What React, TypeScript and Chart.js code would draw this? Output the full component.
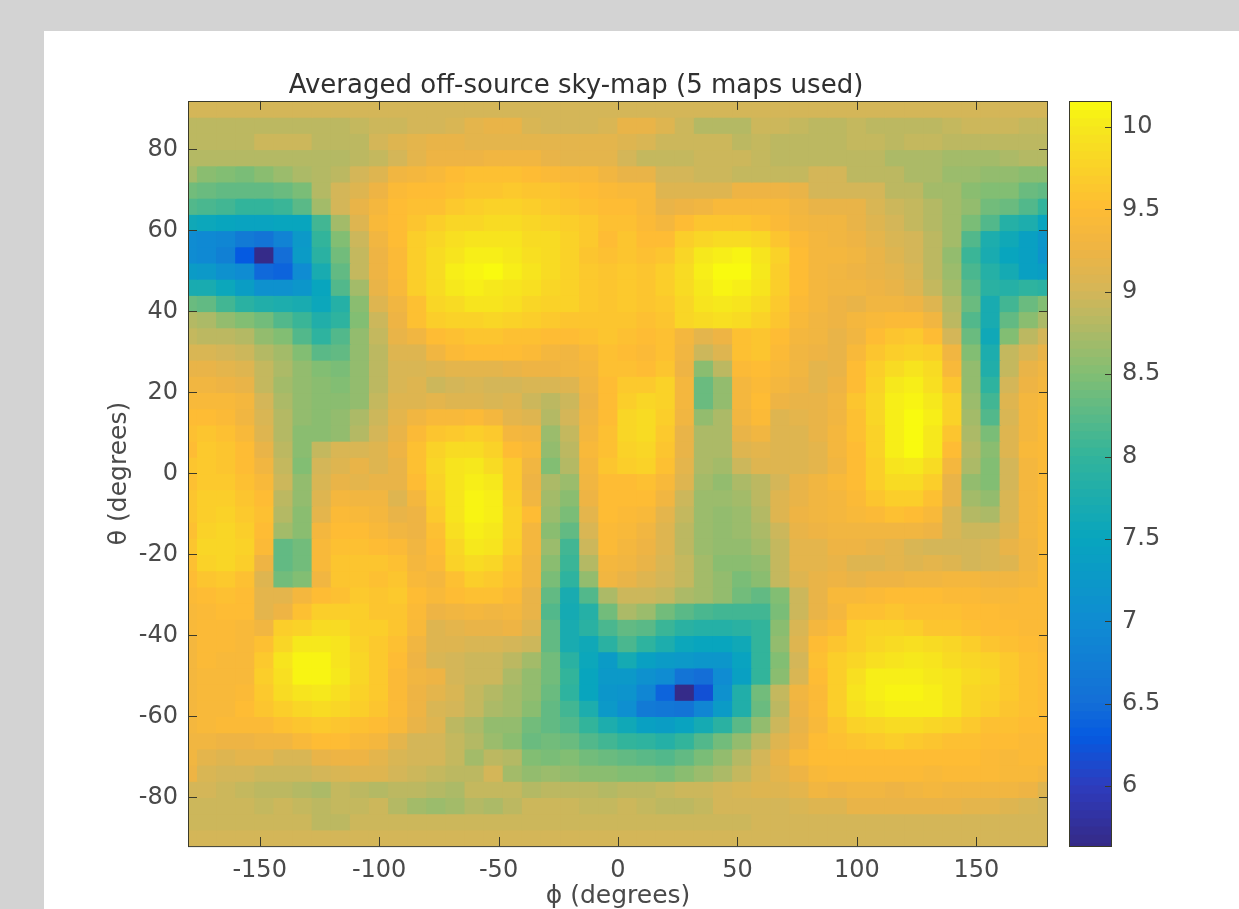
import React, { useEffect, useRef } from "react";
import { Chart, registerables } from "chart.js";

Chart.register(...registerables);

const chartTitle = "Averaged off-source sky-map (5 maps used)";
const xTitle = "ϕ (degrees)";
const yTitle = "θ (degrees)";
const xTicks = [-150, -100, -50, 0, 50, 100, 150];
const yTicks = [80, 60, 40, 20, 0, -20, -40, -60, -80];
const barTicks = [6, 6.5, 7, 7.5, 8, 8.5, 9, 9.5, 10];

const phiCenters = [-180,-172,-164,-156,-148,-140,-132,-124,-116,-108,-100,-92,-84,-76,-68,-60,-52,-44,-36,-28,-20,-12,-4,4,12,20,28,36,44,52,60,68,76,84,92,100,108,116,124,132,140,148,156,164,172,180];
const thetaCenters = [90,86,82,78,74,70,66,62,58,54,50,46,42,38,34,30,26,22,18,14,10,6,2,-2,-6,-10,-14,-18,-22,-26,-30,-34,-38,-42,-46,-50,-54,-58,-62,-66,-70,-74,-78,-82,-86,-90];

const skyRows = [
[9,9,9,9,9,9,9,9,9,9,9,9,9,9,9,9,9,9,9,9,9,9,9,9,9,9,9,9,9,9,9,9,9,9,9,9,9,9,9,9,9,9,9,9,9,9],
[8.85,8.85,8.85,8.85,8.85,8.85,8.85,8.85,8.85,8.9,8.95,8.95,9,9,9.05,9.15,9.2,9.2,9.05,9,9,9,9.05,9.2,9.2,9.1,8.95,8.8,8.8,8.8,8.95,8.95,8.9,8.85,8.85,8.9,8.85,8.85,8.85,8.85,8.9,8.95,8.95,8.95,8.9,8.9],
[8.85,8.85,8.85,8.85,8.95,8.95,8.95,8.85,8.85,8.85,9,9.1,9.15,9.2,9.2,9.15,9.15,9.15,9.15,9.15,9.15,9.15,9.15,9.1,9.05,8.95,8.95,8.95,8.95,8.85,8.9,8.85,8.85,8.85,8.85,8.9,8.9,8.85,8.9,8.9,8.85,8.85,8.85,8.85,8.85,8.85],
[8.8,8.8,8.8,8.8,8.8,8.8,8.8,8.8,8.8,8.85,8.9,9,9.15,9.25,9.25,9.25,9.3,9.3,9.3,9.2,9.15,9.15,9.15,9,8.9,8.9,8.9,8.95,8.95,8.95,8.9,8.85,8.85,8.85,8.85,8.85,8.85,8.75,8.75,8.75,8.7,8.7,8.7,8.75,8.8,8.8],
[8.7,8.55,8.5,8.45,8.55,8.65,8.75,8.8,8.85,9,9.1,9.3,9.35,9.4,9.5,9.55,9.55,9.55,9.5,9.45,9.4,9.4,9.3,9.2,9.2,9,9,8.95,8.95,8.9,8.9,8.9,8.9,9,9,8.85,8.85,8.85,8.75,8.75,8.65,8.65,8.6,8.6,8.55,8.55],
[8.4,8.35,8.3,8.3,8.3,8.35,8.45,8.8,9,9.1,9.25,9.45,9.5,9.5,9.55,9.6,9.6,9.65,9.6,9.6,9.55,9.5,9.45,9.4,9.4,9.1,9.1,9.1,9.1,9.25,9.25,9.25,9.2,9,9,9,9,8.85,8.85,8.7,8.7,8.55,8.5,8.5,8.35,8.3],
[8.2,8.15,8.1,8,8,8.05,8.25,8.7,9,9.2,9.35,9.5,9.55,9.55,9.65,9.7,9.75,9.75,9.7,9.65,9.6,9.55,9.5,9.5,9.4,9.2,9.25,9.3,9.4,9.4,9.4,9.4,9.3,9.2,9.2,9.2,9.05,8.95,8.9,8.8,8.7,8.6,8.4,8.35,8.2,8],
[7.6,7.55,7.5,7.45,7.45,7.5,7.5,8.1,8.7,9.1,9.4,9.5,9.6,9.7,9.8,9.8,9.85,9.85,9.8,9.75,9.7,9.65,9.55,9.55,9.45,9.35,9.5,9.6,9.6,9.6,9.55,9.45,9.35,9.3,9.3,9.2,9.1,9,8.9,8.8,8.7,8.45,8.2,7.85,7.75,7.5],
[7,6.95,6.9,6.7,6.6,6.85,7.25,8,8.5,8.95,9.3,9.5,9.7,9.8,9.9,9.95,9.95,9.95,9.85,9.85,9.75,9.65,9.5,9.6,9.5,9.5,9.7,9.8,9.85,9.85,9.8,9.6,9.45,9.35,9.3,9.25,9.15,9.05,9,8.85,8.7,8.2,7.75,7.6,7.4,7.2],
[7,6.95,6.8,6.3,5.65,6.5,7.3,7.9,8.4,8.9,9.25,9.45,9.7,9.85,9.95,10.05,10.05,10,9.9,9.85,9.75,9.6,9.55,9.6,9.55,9.6,9.8,10,10.05,10.1,9.95,9.75,9.5,9.35,9.35,9.3,9.2,9.1,9,8.85,8.6,8.05,7.7,7.5,7.4,7.15],
[7.3,7.25,7.1,7,6.45,6.4,7,7.7,8.3,8.9,9.25,9.45,9.7,9.85,10.05,10.1,10.15,10.05,9.95,9.85,9.75,9.65,9.6,9.65,9.6,9.7,9.85,10.05,10.15,10.15,10,9.7,9.5,9.35,9.3,9.25,9.2,9.15,9.05,8.85,8.65,8.15,7.85,7.65,7.4,7.35],
[7.7,7.7,7.55,7.35,7.1,7.1,7.2,7.5,8.2,8.7,9.2,9.4,9.7,9.85,10,10.05,10,9.95,9.9,9.8,9.75,9.65,9.6,9.65,9.6,9.7,9.85,10,10.1,10.05,9.95,9.7,9.5,9.35,9.3,9.3,9.25,9.2,9.1,8.9,8.7,8.25,7.9,7.85,7.95,7.9],
[8.35,8.3,8.1,7.9,7.8,7.75,7.7,7.55,7.85,8.55,9.1,9.3,9.55,9.8,9.85,9.95,9.95,9.9,9.8,9.75,9.75,9.65,9.6,9.65,9.6,9.65,9.8,9.95,10,9.95,9.85,9.65,9.45,9.35,9.25,9.2,9.3,9.3,9.25,9.1,8.8,8.35,7.7,8.1,8.35,8.5],
[8.8,8.75,8.6,8.5,8.4,8.2,8.05,7.8,7.95,8.5,8.95,9.25,9.55,9.7,9.75,9.75,9.8,9.75,9.7,9.65,9.6,9.6,9.6,9.6,9.55,9.6,9.8,9.85,9.9,9.85,9.75,9.6,9.4,9.3,9.25,9.35,9.4,9.45,9.45,9.3,8.85,8.2,7.7,8.3,8.55,8.75],
[8.9,8.85,8.85,8.8,8.6,8.5,8.2,7.95,8.2,8.6,8.9,9.2,9.3,9.5,9.55,9.6,9.6,9.55,9.55,9.5,9.5,9.55,9.6,9.55,9.5,9.55,9.35,9.15,9.25,9.55,9.6,9.5,9.35,9.3,9.2,9.3,9.5,9.6,9.65,9.5,9,8.35,7.6,8.5,8.85,9],
[9.05,9.05,9,8.95,8.8,8.7,8.5,8.25,8.3,8.6,8.85,9.1,9.1,9.3,9.45,9.5,9.5,9.5,9.45,9.35,9.3,9.4,9.55,9.5,9.45,9.55,9.3,8.95,9.1,9.55,9.6,9.45,9.3,9.25,9.2,9.4,9.6,9.7,9.75,9.7,9.3,8.5,7.75,8.9,9.05,9.2],
[9.2,9.2,9.15,9.1,8.9,8.75,8.6,8.5,8.45,8.6,8.85,9.05,9.05,9.1,9.15,9.15,9.15,9.2,9.25,9.25,9.3,9.35,9.55,9.55,9.5,9.6,9.25,8.55,8.85,9.45,9.5,9.4,9.3,9.15,9.2,9.5,9.7,9.85,9.95,9.85,9.4,8.6,7.8,8.9,9.2,9.3],
[9.3,9.3,9.25,9.2,8.9,8.7,8.6,8.55,8.5,8.6,8.85,9.05,9.1,8.95,9,9.05,9,9,9.05,9.05,9.1,9.3,9.5,9.65,9.65,9.75,9.35,8.35,8.6,9.35,9.45,9.35,9.25,9.15,9.25,9.5,9.75,10,10.05,9.9,9.6,8.6,7.95,9,9.25,9.35],
[9.4,9.4,9.4,9.35,9,8.75,8.6,8.55,8.55,8.6,8.9,9.1,9.1,9.15,9.1,9.1,9.05,9.1,8.95,8.85,8.95,9.25,9.5,9.7,9.8,9.75,9.35,8.35,8.6,9.35,9.5,9.25,9.2,9.2,9.3,9.6,9.8,10.05,10.1,10,9.75,8.65,8.1,9.1,9.35,9.4],
[9.5,9.5,9.45,9.3,9.05,8.8,8.6,8.55,8.6,8.75,8.95,9.15,9.3,9.4,9.4,9.45,9.35,9.15,9.1,8.8,9,9.3,9.5,9.8,9.85,9.7,9.3,8.6,8.75,9.3,9.45,9.1,9.15,9.2,9.3,9.55,9.8,10.05,10.15,10.05,9.75,8.7,8.2,9.05,9.35,9.45],
[9.55,9.6,9.55,9.4,9.1,8.8,8.55,8.55,8.6,8.8,9,9.2,9.45,9.6,9.65,9.7,9.65,9.35,9.3,8.65,8.9,9.35,9.55,9.8,9.85,9.65,9.2,8.75,8.75,9.2,9.3,9.1,9.1,9.2,9.35,9.55,9.75,10.05,10.15,10,9.6,8.75,8.45,9.1,9.35,9.45],
[9.5,9.65,9.6,9.5,9.2,8.85,8.55,8.9,9.05,9.05,9.1,9.25,9.55,9.75,9.85,9.85,9.75,9.5,9.4,8.6,8.85,9.4,9.55,9.75,9.8,9.6,9.2,8.75,8.75,9.1,9.15,9.1,9.1,9.15,9.35,9.5,9.75,10.05,10.15,10,9.5,8.8,8.55,9.1,9.4,9.45],
[9.6,9.65,9.6,9.5,9.3,8.9,8.5,9,9.1,9.2,9.1,9.2,9.55,9.8,9.95,10,9.85,9.65,9.3,8.5,8.8,9.35,9.6,9.7,9.75,9.55,9.15,8.75,8.7,8.95,9.1,9.1,9.1,9.15,9.3,9.5,9.7,9.95,10,9.85,9.35,8.75,8.5,9,9.35,9.45],
[9.55,9.65,9.65,9.55,9.4,8.95,8.6,9.05,9.2,9.15,9.2,9.2,9.5,9.75,9.95,10.05,10,9.65,9.25,8.75,8.65,9.3,9.5,9.5,9.55,9.4,9.1,8.7,8.6,8.75,8.85,9,9.2,9.3,9.4,9.5,9.7,9.85,9.85,9.7,9.2,8.6,8.5,9,9.35,9.45],
[9.6,9.7,9.7,9.6,9.5,8.85,8.6,9.1,9.35,9.3,9.3,9.1,9.35,9.7,9.95,10.1,10.05,9.7,9.3,8.7,8.55,9.25,9.5,9.5,9.5,9.3,8.95,8.65,8.65,8.7,8.85,9.1,9.2,9.3,9.35,9.45,9.6,9.7,9.7,9.55,9.2,8.7,8.6,9.05,9.35,9.45],
[9.6,9.7,9.75,9.65,9.55,8.8,8.55,9.15,9.45,9.4,9.35,9.2,9.25,9.65,9.95,10.1,10.05,9.75,9.5,8.65,8.45,9.15,9.5,9.45,9.4,9.15,8.9,8.65,8.6,8.65,8.8,9.1,9.25,9.3,9.35,9.4,9.45,9.55,9.5,9.4,9.05,8.8,8.75,9.05,9.35,9.45],
[9.55,9.75,9.8,9.7,9.5,8.7,8.55,9.35,9.5,9.5,9.4,9.3,9.25,9.55,9.9,10.05,10,9.75,9.35,8.55,8.3,9.05,9.45,9.4,9.3,9.1,8.85,8.65,8.6,8.65,8.75,8.95,9.2,9.25,9.3,9.3,9.3,9.3,9.3,9.25,9.05,8.95,8.95,9.1,9.35,9.45],
[9.6,9.8,9.8,9.75,9.45,8.3,8.4,9.4,9.55,9.55,9.5,9.45,9.3,9.5,9.8,10,9.95,9.7,9.35,8.65,8.1,8.95,9.45,9.35,9.25,9.1,8.85,8.65,8.6,8.6,8.7,8.9,9.15,9.15,9.25,9.25,9.2,9.15,9.05,9,9,9,9.05,9.2,9.3,9.45],
[9.55,9.75,9.8,9.7,9.25,8.3,8.4,9.4,9.6,9.6,9.6,9.55,9.35,9.45,9.75,9.85,9.8,9.6,9.3,8.55,8.05,8.8,9.35,9.3,9.2,9.05,8.9,8.7,8.55,8.55,8.6,8.9,9.15,9.15,9.2,9.1,9.1,9.15,9.1,9.15,9.1,9,9.05,9.1,9.3,9.45],
[9.5,9.6,9.65,9.55,9.1,8.4,8.5,9.3,9.6,9.6,9.55,9.6,9.4,9.35,9.55,9.7,9.65,9.55,9.3,8.45,7.95,8.6,9.3,9.2,9.1,9,8.9,8.7,8.6,8.45,8.55,8.9,9.1,9.2,9.25,9.2,9.25,9.25,9.3,9.3,9.35,9.35,9.3,9.3,9.35,9.45],
[9.45,9.5,9.55,9.5,9.15,9.15,9.35,9.5,9.55,9.65,9.6,9.65,9.5,9.4,9.5,9.55,9.55,9.45,9.2,8.3,7.7,8.2,8.75,8.95,8.95,8.9,8.75,8.7,8.6,8.4,8.3,8.5,8.95,9.2,9.4,9.4,9.45,9.5,9.5,9.5,9.45,9.45,9.4,9.4,9.45,9.45],
[9.4,9.45,9.5,9.5,9.15,9.25,9.55,9.7,9.7,9.7,9.6,9.6,9.45,9.25,9.3,9.35,9.3,9.35,9.2,8.2,7.65,7.85,8.4,8.75,8.65,8.4,8.25,8.15,8.1,8.1,8.1,8.45,8.95,9.2,9.35,9.55,9.55,9.6,9.55,9.55,9.55,9.5,9.5,9.45,9.45,9.45],
[9.4,9.45,9.45,9.4,9.3,9.7,9.75,9.85,9.85,9.7,9.7,9.6,9.4,9.1,9.15,9.2,9.2,9.25,9.1,8.3,7.7,7.9,8.15,8.3,8.25,8.05,7.9,7.85,7.85,7.9,8,8.55,9.05,9.35,9.45,9.7,9.75,9.75,9.7,9.6,9.6,9.55,9.5,9.5,9.45,9.45],
[9.35,9.45,9.45,9.4,9.55,9.8,10,10,9.95,9.75,9.65,9.55,9.3,9.1,9.1,9.05,9.05,9,8.95,8.3,7.7,7.6,7.9,8.15,7.95,7.75,7.55,7.5,7.5,7.6,8,8.6,9.1,9.5,9.6,9.7,9.8,9.85,9.9,9.85,9.8,9.7,9.6,9.55,9.5,9.45],
[9.35,9.45,9.4,9.4,9.65,9.95,10.1,10.1,9.95,9.8,9.65,9.5,9.25,9.05,9,8.95,8.95,8.85,8.7,8.4,7.9,7.55,7.3,7.65,7.4,7.3,7.25,7.2,7.2,7.45,8,8.5,9,9.55,9.7,9.8,9.9,9.95,10,9.95,9.85,9.8,9.75,9.65,9.55,9.5],
[9.35,9.4,9.4,9.4,9.7,9.9,10.1,10.1,10,9.8,9.65,9.45,9.3,9.25,9,8.95,8.95,8.75,8.6,8.4,8,7.5,7.25,7.25,7.1,7,6.6,6.5,7,7.4,8,8.55,9.05,9.5,9.7,9.9,10.05,10.05,10.05,10,9.95,9.85,9.8,9.65,9.55,9.5],
[9.35,9.4,9.4,9.45,9.65,9.85,9.95,10,9.9,9.75,9.65,9.45,9.25,9.15,9.05,8.9,8.8,8.7,8.6,8.35,7.95,7.5,7.2,7.15,6.9,6.4,5.65,6.2,7.1,7.8,8.4,8.9,9.3,9.45,9.7,9.95,10.05,10.1,10.1,10.05,9.95,9.8,9.75,9.65,9.55,9.5],
[9.35,9.4,9.4,9.5,9.6,9.7,9.8,9.85,9.8,9.7,9.6,9.45,9.25,9.05,9,8.9,8.75,8.7,8.55,8.3,8.1,7.75,7.25,7.05,6.7,6.65,6.6,6.9,7.3,7.8,8.35,8.85,9.25,9.45,9.7,9.9,10,10.05,10.05,10.05,9.95,9.8,9.7,9.6,9.55,9.5],
[9.35,9.4,9.45,9.45,9.45,9.55,9.6,9.65,9.6,9.55,9.5,9.4,9.2,9.1,8.85,8.75,8.6,8.6,8.4,8.3,8.2,8,7.75,7.6,7.4,7.35,7.45,7.65,7.9,8.25,8.6,8.95,9.2,9.4,9.6,9.75,9.8,9.85,9.85,9.8,9.75,9.65,9.55,9.55,9.5,9.5],
[9.3,9.3,9.25,9.25,9.3,9.3,9.4,9.5,9.5,9.4,9.35,9.15,9,9,8.9,8.8,8.65,8.55,8.35,8.4,8.35,8.2,8.1,8,7.95,7.85,8,8.2,8.4,8.6,8.85,9.1,9.25,9.5,9.55,9.6,9.65,9.7,9.65,9.6,9.55,9.55,9.5,9.5,9.45,9.45],
[9.3,9.15,9.1,9.15,9.15,9.05,9.05,9.2,9.25,9.25,9.15,9.05,9,9,8.9,8.7,8.85,8.8,8.5,8.45,8.5,8.4,8.35,8.3,8.25,8.2,8.3,8.45,8.6,8.8,9,9.2,9.4,9.5,9.5,9.5,9.5,9.5,9.5,9.5,9.5,9.5,9.45,9.4,9.45,9.45],
[9.25,9.05,9,9,8.95,8.95,8.95,9,9.05,9.1,9.1,9,8.95,8.9,8.85,8.85,9,8.7,8.6,8.65,8.6,8.55,8.55,8.5,8.5,8.45,8.55,8.65,8.75,8.9,9.05,9.15,9.25,9.4,9.45,9.45,9.45,9.45,9.45,9.4,9.45,9.45,9.45,9.4,9.4,9.35],
[9,9,8.95,8.9,8.85,8.85,8.8,8.75,8.9,8.85,8.8,8.85,8.85,8.8,8.75,8.9,8.9,8.9,8.8,8.85,8.85,8.85,8.8,8.85,8.85,8.9,8.95,8.95,9,9.05,9.1,9.1,9.15,9.3,9.25,9.3,9.3,9.25,9.3,9.35,9.3,9.3,9.3,9.3,9.25,9.1],
[8.95,8.95,8.95,8.95,8.9,8.95,8.9,8.85,8.9,8.9,8.95,8.8,8.7,8.65,8.7,8.8,8.75,8.85,8.95,8.95,8.95,8.9,8.9,8.95,8.9,8.85,8.85,8.9,9,9,9,9,9.05,9.1,9.1,9.2,9.2,9.2,9.2,9.2,9.2,9.15,9.15,9.1,9.05,9],
[8.95,8.95,8.95,8.95,8.95,8.95,8.95,8.85,8.85,8.95,8.95,8.95,8.95,8.95,8.95,8.95,8.95,8.95,8.95,8.95,8.95,8.95,8.95,8.95,8.95,8.95,8.95,8.95,8.95,8.95,9,9,9,9,9,9,9,9,9,9,9,9,9,9,9,9],
[9,9,9,9,9,9,9,9,9,9,9,9,9,9,9,9,9,9,9,9,9,9,9,9,9,9,9,9,9,9,9,9,9,9,9,9,9,9,9,9,9,9,9,9,9,9],
];

const barLevels = [5.6,5.65,5.7,5.75,5.8,5.85,5.9,5.95,6,6.05,6.1,6.15,6.2,6.25,6.3,6.35,6.4,6.45,6.5,6.55,6.6,6.65,6.7,6.75,6.8,6.85,6.9,6.95,7,7.05,7.1,7.15,7.2,7.25,7.3,7.35,7.4,7.45,7.5,7.55,7.6,7.65,7.7,7.75,7.8,7.85,7.9,7.95,8,8.05,8.1,8.15,8.2,8.25,8.3,8.35,8.4,8.45,8.5,8.55,8.6,8.65,8.7,8.75,8.8,8.85,8.9,8.95,9,9.05,9.1,9.15,9.2,9.25,9.3,9.35,9.4,9.45,9.5,9.55,9.6,9.65,9.7,9.75,9.8,9.85,9.9,9.95,10,10.05,10.1,10.15];

const colorStops: [number, number, number, number][] = [
  [5.636, 53, 42, 135],
  [6.0, 45, 60, 190],
  [6.3, 5, 90, 225],
  [6.5, 20, 110, 215],
  [7.0, 15, 140, 210],
  [7.5, 8, 165, 190],
  [8.0, 50, 180, 155],
  [8.5, 130, 190, 115],
  [8.8, 180, 185, 100],
  [9.0, 212, 182, 88],
  [9.25, 238, 180, 68],
  [9.5, 254, 188, 52],
  [9.75, 250, 210, 40],
  [10.0, 246, 232, 28],
  [10.158, 249, 251, 14],
];

function colorOf(v: number): string {
  const s = colorStops;
  if (v <= s[0][0]) return `rgb(${s[0][1]},${s[0][2]},${s[0][3]})`;
  for (let i = 1; i < s.length; i++) {
    if (v <= s[i][0]) {
      const t = (v - s[i - 1][0]) / (s[i][0] - s[i - 1][0]);
      const m = (k: number) => Math.round(s[i - 1][k] + (s[i][k] - s[i - 1][k]) * t);
      return `rgb(${m(1)},${m(2)},${m(3)})`;
    }
  }
  const e = s[s.length - 1];
  return `rgb(${e[1]},${e[2]},${e[3]})`;
}

const FONT = "'DejaVu Sans'";
const TEXT = "#4a4a4a";
const LINE = "#3a3a2a";

const frame = (xLen: number, yLen: number, mirrorY: boolean) => ({
  id: "frame",
  afterDatasetsDraw(chart: any) {
    const { ctx, chartArea: a, scales } = chart;
    ctx.save();
    ctx.strokeStyle = LINE;
    ctx.lineWidth = 1;
    ctx.strokeRect(Math.round(a.left) + 0.5, Math.round(a.top) + 0.5, a.right - a.left - 1, a.bottom - a.top);
    ctx.beginPath();
    if (scales.x && xLen > 0) {
      for (const t of scales.x.ticks) {
        const x = Math.round(scales.x.getPixelForValue(t.value)) + 0.5;
        ctx.moveTo(x, a.bottom);
        ctx.lineTo(x, a.bottom - xLen);
        ctx.moveTo(x, a.top);
        ctx.lineTo(x, a.top + xLen);
      }
    }
    for (const t of scales.y.ticks) {
      const y = Math.round(scales.y.getPixelForValue(t.value)) + 0.5;
      if (mirrorY) {
        ctx.moveTo(a.left, y);
        ctx.lineTo(a.left + yLen, y);
      }
      ctx.moveTo(a.right, y);
      ctx.lineTo(a.right - yLen, y);
    }
    ctx.stroke();
    ctx.restore();
  },
});

export default function App() {
  const mainRef = useRef<HTMLCanvasElement>(null);
  const barRef = useRef<HTMLCanvasElement>(null);

  useEffect(() => {
    const datasets = skyRows.map((row, r) => ({
      data: row.map((_, c) => ({
        x: phiCenters[c],
        y: [thetaCenters[r] - 2, thetaCenters[r] + 2],
      })),
      backgroundColor: row.map(colorOf),
      borderWidth: 0,
      inflateAmount: 0.6,
      barPercentage: 1,
      categoryPercentage: 1,
      grouped: false,
    }));

    const main = new Chart(mainRef.current!, {
      type: "bar",
      data: { datasets } as any,
      plugins: [frame(9, 9, true)],
      options: {
        responsive: false,
        animation: false,
        events: [],
        layout: { padding: { left: 104, right: 191, top: 65, bottom: 0 } },
        plugins: {
          legend: { display: false },
          tooltip: { enabled: false },
          title: {
            display: true,
            text: chartTitle,
            color: "#303030",
            font: { family: FONT, size: 26, weight: "normal", lineHeight: 1.15 },
            padding: { top: 6, bottom: 0 },
          },
        },
        scales: {
          x: {
            type: "linear",
            min: -180,
            max: 180,
            offset: false,
            grid: { display: false, drawTicks: false },
            border: { display: false },
            afterBuildTicks: (s: any) => { s.ticks = xTicks.map((value) => ({ value })); },
            afterFit: (s: any) => { s.height = 63; },
            ticks: {
              color: TEXT,
              padding: 10,
              maxRotation: 0,
              autoSkip: false,
              font: { family: FONT, size: 24 },
              callback: (v: any) => String(v),
            },
            title: {
              display: true,
              text: xTitle,
              color: TEXT,
              padding: { top: 0, bottom: 0 },
              font: { family: FONT, size: 25, lineHeight: 1 },
            },
          },
          y: {
            type: "linear",
            min: -92,
            max: 92,
            grid: { display: false, drawTicks: false },
            border: { display: false },
            afterBuildTicks: (s: any) => { s.ticks = yTicks.map((value) => ({ value })); },
            afterFit: (s: any) => { s.width = 84; },
            ticks: {
              color: TEXT,
              padding: 10,
              autoSkip: false,
              font: { family: FONT, size: 24 },
              callback: (v: any) => String(v),
            },
            title: {
              display: true,
              text: yTitle,
              color: TEXT,
              padding: { top: 0, bottom: 0 },
              font: { family: FONT, size: 25 },
            },
          },
        },
      },
    } as any);

    const barDatasets = barLevels.map((v) => ({
      data: [[v, v + 0.05]],
      backgroundColor: colorOf(v + 0.025),
      borderWidth: 0,
      inflateAmount: 0.6,
      barPercentage: 1,
      categoryPercentage: 1,
      grouped: false,
    }));

    const bar = new Chart(barRef.current!, {
      type: "bar",
      data: { labels: ["colorbar"], datasets: barDatasets } as any,
      plugins: [frame(0, 7, false)],
      options: {
        responsive: false,
        animation: false,
        events: [],
        layout: { padding: { left: 1069, right: 0, top: 101, bottom: 63 } },
        plugins: { legend: { display: false }, tooltip: { enabled: false }, title: { display: false } },
        scales: {
          x: { display: false },
          y: {
            position: "right",
            type: "linear",
            min: 5.636,
            max: 10.158,
            grid: { display: false, drawTicks: false },
            border: { display: false },
            afterBuildTicks: (s: any) => { s.ticks = barTicks.map((value) => ({ value })); },
            afterFit: (s: any) => { s.width = 127; },
            ticks: {
              color: TEXT,
              padding: 10,
              autoSkip: false,
              font: { family: FONT, size: 24 },
              callback: (v: any) => String(v),
            },
          },
        },
      },
    } as any);

    return () => {
      main.destroy();
      bar.destroy();
    };
  }, []);

  const layer: React.CSSProperties = { position: "absolute", left: 0, top: 0, width: 1239, height: 909 };

  return (
    <div style={{ position: "fixed", left: 0, top: 0, width: 1239, height: 909, background: "#d3d3d3", overflow: "hidden" }}>
      <div style={{ position: "absolute", left: 44, top: 31, width: 1195, height: 878, background: "#ffffff" }} />
      <canvas ref={mainRef} width={1239} height={909} style={layer} />
      <canvas ref={barRef} width={1239} height={909} style={layer} />
    </div>
  );
}
